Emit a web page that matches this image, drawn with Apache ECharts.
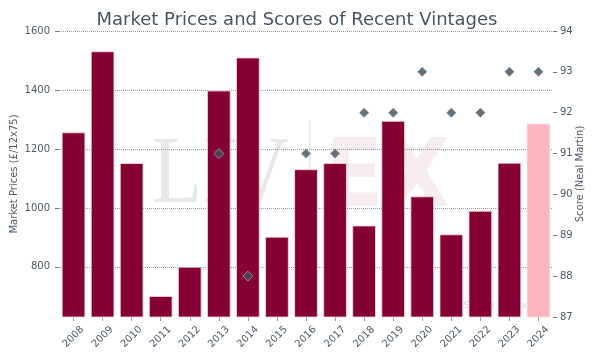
<!DOCTYPE html>
<html>
<head>
<meta charset="utf-8">
<script src="https://cdn.jsdelivr.net/npm/echarts@6/dist/echarts.min.js"></script>
<style>html,body{margin:0;padding:0;background:#fff}#c{width:594px;height:358px}</style>
</head>
<body>
<div id="c"></div>
<script>
var vintages = ['2008','2009','2010','2011','2012','2013','2014','2015','2016','2017','2018','2019','2020','2021','2022','2023','2024'];
var prices = [1256, 1531, 1152, 701, 800, 1398, 1510, 902, 1131, 1152, 940, 1295, 1039, 910, 990, 1153, 1286];
var scores = [null, null, null, null, null, 91, 88, null, 91, 91, 92, 92, 93, 92, 92, 93, 93];
var priceTicks = [800, 1000, 1200, 1400, 1600];
var scoreTicks = [87, 88, 89, 90, 91, 92, 93, 94];

var txt = '#4d5a67';
var font = 'DejaVu Sans';
var chart = echarts.init(document.getElementById('c'));
chart.setOption({
  animation: false,
  backgroundColor: '#fff',
  title: {
    text: 'Market Prices and Scores of Recent Vintages',
    left: 'center', top: 6,
    textStyle: {color: '#4a5563', fontSize: 18, fontWeight: 'normal', fontFamily: font}
  },
  graphic: [
    {type: 'text', left: 152, top: 130, z: -10, silent: true,
     style: {text: 'LIV', fontFamily: 'Liberation Serif', fontSize: 82, fill: '#e8e8e8'}, scaleY: 1.15},
    {type: 'rect', left: 309, top: 120, z: -10, silent: true, shape: {width: 1.5, height: 92}, style: {fill: '#e6e6e6'}},
    {type: 'text', left: 325, top: 134, z: -10, silent: true,
     style: {text: 'EX', fontFamily: font, fontWeight: 'bold', fontSize: 86, fill: '#f7edf0'}, scaleY: 1.1},
    {type: 'text', right: 67, top: 301, z: -10, silent: true,
     style: {text: 'Source: Liv-ex', fontFamily: font, fontSize: 9, fill: '#d8d8d8'}}
  ],
  grid: {left: 59, right: 41, top: 31, bottom: 41, containLabel: false, outerBoundsMode: 'none'},
  xAxis: {
    type: 'category', data: vintages,
    axisLine: {show: false},
    axisTick: {show: true, alignWithLabel: true, length: 4, lineStyle: {color: '#999'}},
    axisLabel: {rotate: 45, color: txt, fontSize: 10, fontFamily: font, margin: 20,
                align: 'center', verticalAlign: 'middle'}
  },
  yAxis: [
    {
      type: 'value', min: 630, max: 1600,
      name: 'Market Prices (£/12x75)', nameLocation: 'middle', nameGap: 40, nameMoveOverlap: false,
      nameTextStyle: {color: txt, fontSize: 10, fontFamily: font},
      axisLine: {show: false},
      axisTick: {show: true, length: 4, lineStyle: {color: '#777'}, customValues: priceTicks},
      axisLabel: {color: txt, fontSize: 10, fontFamily: font, margin: 9, customValues: priceTicks,
                  formatter: function (v) { return String(v); }},
      splitLine: {show: true, lineStyle: {color: '#9a9a9a', type: [1, 1], width: 1}}
    },
    {
      type: 'value', min: 87, max: 94, interval: 1, position: 'right',
      name: 'Score (Neal Martin)', nameLocation: 'middle', nameGap: 22, nameMoveOverlap: false,
      nameTextStyle: {color: txt, fontSize: 10, fontFamily: font},
      axisLine: {show: false},
      axisTick: {show: true, length: 4, lineStyle: {color: '#777'}},
      axisLabel: {color: txt, fontSize: 10, fontFamily: font, margin: 7},
      splitLine: {show: false}
    }
  ],
  series: [
    {
      type: 'bar', yAxisIndex: 0, barCategoryGap: '19%',
      data: prices.map(function (v, i) {
        return {value: v, itemStyle: {color: i === prices.length - 1 ? '#ffb6c1' : '#850033'}};
      }),
      itemStyle: {borderColor: '#f2dbe2', borderWidth: 0.8}
    },
    {
      type: 'scatter', yAxisIndex: 1, data: scores, symbol: 'diamond', symbolSize: [10, 10],
      itemStyle: {color: '#3f4d5a', borderColor: 'rgba(230,232,235,0.8)', borderWidth: 0.8}, z: 5
    }
  ]
});
</script>
</body>
</html>
